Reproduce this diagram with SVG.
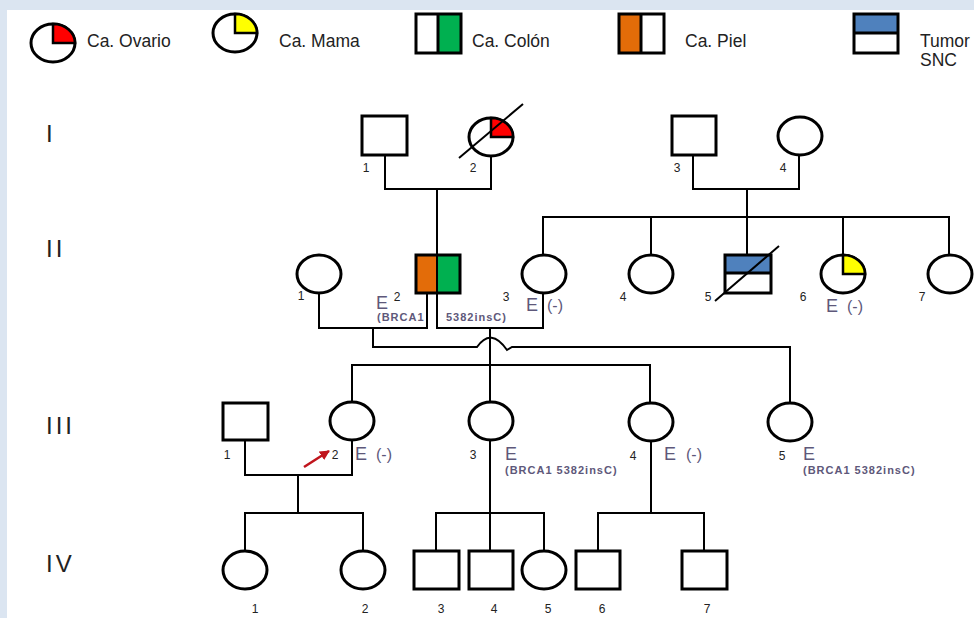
<svg xmlns="http://www.w3.org/2000/svg" width="974" height="618" viewBox="0 0 974 618">
<style>
.sym{fill:#fff;stroke:#000;stroke-width:3}
.ol{fill:none;stroke:#000;stroke-width:3}
.q{stroke:#000;stroke-width:2.5}
.ln{fill:none;stroke:#000;stroke-width:2}
.t{font-family:"Liberation Sans",Arial,sans-serif}
.num{font-family:"Liberation Sans",Arial,sans-serif;font-size:12px;fill:#222;text-anchor:middle}
.E{font-family:"Liberation Sans",Arial,sans-serif;font-size:18px;fill:#5e587a}
.neg{font-family:"Liberation Sans",Arial,sans-serif;font-size:16px;fill:#5e587a}
.mut{font-family:"Liberation Sans",Arial,sans-serif;font-size:11px;font-weight:bold;fill:#5e587a;letter-spacing:1px}
.gen{font-family:"Liberation Sans",Arial,sans-serif;font-size:24px;fill:#222;letter-spacing:3px}
.leg{font-family:"Liberation Sans",Arial,sans-serif;font-size:17.5px;fill:#222}
</style>
<defs>
<marker id="ah" viewBox="0 0 10 10" refX="9" refY="5" markerWidth="4" markerHeight="4" orient="auto"><path d="M0,0 L10,5 L0,10 Z" fill="#c0141c"/></marker>
</defs>
<rect x="0" y="0" width="974" height="618" fill="#dbe5f1"/>
<rect x="7" y="10" width="967" height="608" fill="#fff"/>

<g id="legend">
<g id="leg-ovario">
<ellipse class="sym" cx="53" cy="43" rx="22" ry="19"/>
<path class="q" fill="#ff0000" d="M53,43 V24 A22 19 0 0 1 75 43 Z"/>
<text class="leg" x="87" y="47">Ca. Ovario</text>
</g>
<g id="leg-mama">
<ellipse class="sym" cx="235" cy="33" rx="22" ry="19"/>
<path class="q" fill="#ffff00" d="M235,33 V14 A22 19 0 0 1 257 33 Z"/>
<text class="leg" x="279" y="47">Ca. Mama</text>
</g>
<g id="leg-colon">
<rect x="438" y="14" width="23" height="39" fill="#00b050"/>
<line x1="438" y1="14" x2="438" y2="53" stroke="#000" stroke-width="3"/>
<rect class="ol" x="416" y="14" width="45" height="39"/>
<text class="leg" x="472" y="47">Ca. Colón</text>
</g>
<g id="leg-piel">
<rect x="619" y="14" width="22" height="39" fill="#e36c09"/>
<line x1="641" y1="14" x2="641" y2="53" stroke="#000" stroke-width="3"/>
<rect class="ol" x="619" y="14" width="45" height="39"/>
<text class="leg" x="685" y="47">Ca. Piel</text>
</g>
<g id="leg-snc">
<rect x="854" y="14" width="44" height="19" fill="#4f81bd"/>
<line x1="854" y1="33" x2="898" y2="33" stroke="#000" stroke-width="3"/>
<rect class="ol" x="854" y="14" width="44" height="39"/>
<text class="leg" x="920" y="47">Tumor</text>
<text class="leg" x="920" y="66">SNC</text>
</g>
</g>

<g id="generations">
<text class="gen" x="46" y="142">I</text>
<text class="gen" x="46" y="257">II</text>
<text class="gen" x="46" y="434">III</text>
<text class="gen" x="46" y="572">IV</text>
</g>

<g id="connectors">
<path class="ln" d="M385,155 V189 H491 V156"/>
<path class="ln" d="M437,189 V255"/>
<path class="ln" d="M693,155 V189 H799 V155"/>
<path class="ln" d="M747,189 V255"/>
<path class="ln" d="M543,255 V217 H949 V255"/>
<path class="ln" d="M651,217 V255 M843,217 V255"/>
<path class="ln" d="M319,293 V328 H427 V293"/>
<path class="ln" d="M437,293 V328 H543 V293"/>
<path class="ln" d="M373,328 V347 H477 Q491,327 507,350 L512,347 H790 V403"/>
<path class="ln" d="M490,328 V513"/>
<path class="ln" d="M352,403 V365 H650 V403"/>
<path class="ln" d="M245,440 V475 H352 V440"/>
<path class="ln" d="M298,475 V513"/>
<path class="ln" d="M245,551 V513 H363 V551"/>
<path class="ln" d="M436,551 V513 H544 V551 M490,513 V551"/>
<path class="ln" d="M651,440 V513"/>
<path class="ln" d="M598,551 V513 H704 V551"/>
<line x1="304" y1="467" x2="329" y2="451" stroke="#c0141c" stroke-width="2.5" marker-end="url(#ah)"/>
</g>

<g id="I-1">
<rect class="sym" x="362" y="116" width="45" height="39"/>
<text class="num" x="366" y="172">1</text>
</g>
<g id="I-2">
<ellipse class="sym" cx="491" cy="137" rx="22" ry="19"/>
<path class="q" fill="#ff0000" d="M491,137 V118 A22 19 0 0 1 513 137 Z"/>
<line x1="459" y1="158" x2="523" y2="104" stroke="#000" stroke-width="2"/>
<text class="num" x="473" y="172">2</text>
</g>
<g id="I-3">
<rect class="sym" x="672" y="116" width="44" height="39"/>
<text class="num" x="677" y="172">3</text>
</g>
<g id="I-4">
<ellipse class="sym" cx="800" cy="136" rx="22" ry="19"/>
<text class="num" x="783" y="172">4</text>
</g>

<g id="II-1">
<ellipse class="sym" cx="319" cy="274" rx="22" ry="19"/>
<text class="num" x="301" y="300">1</text>
</g>
<g id="II-2">
<rect x="416" y="255" width="21" height="38" fill="#e36c09"/>
<rect x="437" y="255" width="23" height="38" fill="#00b050"/>
<line x1="437" y1="255" x2="437" y2="293" stroke="#000" stroke-width="2"/>
<rect class="ol" x="416" y="255" width="44" height="38"/>
<text class="E" x="376" y="309">E</text>
<text class="num" x="397" y="301">2</text>
<text class="mut" x="377" y="321">(BRCA1</text>
<text class="mut" x="446" y="321">5382insC)</text>
</g>
<g id="II-3">
<ellipse class="sym" cx="544" cy="274" rx="22" ry="19"/>
<text class="num" x="506" y="301">3</text>
<text class="E" x="526" y="311">E</text>
<text class="neg" x="547" y="311">(-)</text>
</g>
<g id="II-4">
<ellipse class="sym" cx="651" cy="274" rx="22" ry="19"/>
<text class="num" x="623" y="301">4</text>
</g>
<g id="II-5">
<rect x="725" y="255" width="46" height="18" fill="#4f81bd"/>
<line x1="725" y1="273" x2="771" y2="273" stroke="#000" stroke-width="3"/>
<rect class="ol" x="725" y="255" width="46" height="38"/>
<line x1="715" y1="301" x2="779" y2="246" stroke="#000" stroke-width="2"/>
<text class="num" x="708" y="301">5</text>
</g>
<g id="II-6">
<ellipse class="sym" cx="843" cy="274" rx="22" ry="19"/>
<path class="q" fill="#ffff00" d="M843,274 V255 A22 19 0 0 1 865 274 Z"/>
<text class="num" x="803" y="301">6</text>
<text class="E" x="826" y="312">E</text>
<text class="neg" x="847" y="312">(-)</text>
</g>
<g id="II-7">
<ellipse class="sym" cx="950" cy="274" rx="22" ry="19"/>
<text class="num" x="922" y="301">7</text>
</g>

<g id="III-1">
<rect class="sym" x="223" y="403" width="45" height="37"/>
<text class="num" x="227" y="459">1</text>
</g>
<g id="III-2">
<ellipse class="sym" cx="352" cy="421" rx="22" ry="19"/>
<text class="num" x="335" y="459">2</text>
<text class="E" x="355" y="460">E</text>
<text class="neg" x="376" y="460">(-)</text>
</g>
<g id="III-3">
<ellipse class="sym" cx="491" cy="421" rx="22" ry="19"/>
<text class="num" x="473" y="459">3</text>
<text class="E" x="505" y="460">E</text>
<text class="mut" x="505" y="474">(BRCA1 5382insC)</text>
</g>
<g id="III-4">
<ellipse class="sym" cx="651" cy="422" rx="22" ry="19"/>
<text class="num" x="633" y="460">4</text>
<text class="E" x="664" y="460">E</text>
<text class="neg" x="686" y="460">(-)</text>
</g>
<g id="III-5">
<ellipse class="sym" cx="790" cy="422" rx="22" ry="19"/>
<text class="num" x="782" y="460">5</text>
<text class="E" x="803" y="460">E</text>
<text class="mut" x="803" y="474">(BRCA1 5382insC)</text>
</g>

<g id="IV-1">
<ellipse class="sym" cx="245" cy="570" rx="22" ry="19"/>
<text class="num" x="255" y="613">1</text>
</g>
<g id="IV-2">
<ellipse class="sym" cx="363" cy="570" rx="22" ry="19"/>
<text class="num" x="365" y="613">2</text>
</g>
<g id="IV-3">
<rect class="sym" x="414" y="551" width="45" height="38"/>
<text class="num" x="441" y="613">3</text>
</g>
<g id="IV-4">
<rect class="sym" x="469" y="551" width="44" height="38"/>
<text class="num" x="494" y="613">4</text>
</g>
<g id="IV-5">
<ellipse class="sym" cx="544" cy="570" rx="22" ry="19"/>
<text class="num" x="548" y="613">5</text>
</g>
<g id="IV-6">
<rect class="sym" x="576" y="551" width="44" height="38"/>
<text class="num" x="602" y="613">6</text>
</g>
<g id="IV-7">
<rect class="sym" x="682" y="551" width="45" height="38"/>
<text class="num" x="707" y="613">7</text>
</g>
</svg>
